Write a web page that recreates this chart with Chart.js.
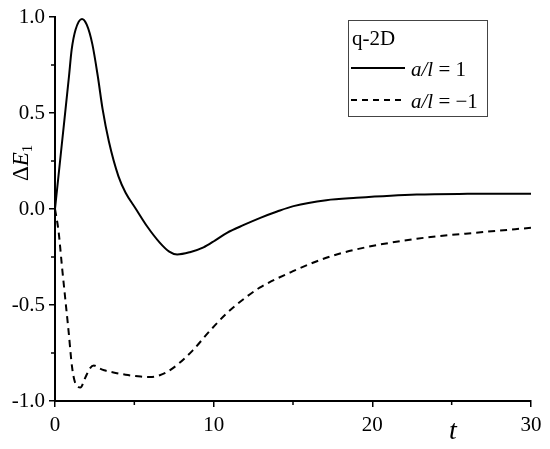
<!DOCTYPE html>
<html>
<head>
<meta charset="utf-8">
<script src="https://cdn.jsdelivr.net/npm/chart.js@4/dist/chart.umd.min.js"></script>
<style>
  html, body { margin: 0; padding: 0; background: #fff; }
  #wrap { width: 550px; height: 449px; }
</style>
</head>
<body>
<div id="wrap"><canvas id="chart"></canvas></div>
<script>
// a/l = 1 (solid)
const tPos = [0, 0.44, 0.88, 1.05, 1.3, 1.7, 2.0, 2.35, 2.7, 3.0, 3.4, 4.0, 4.45, 5.1, 5.8, 6.6, 7.2, 7.7, 8.5, 9.36, 10.1, 10.84, 11.9, 12.94, 14.0, 15.03, 17.1, 19.0, 22.8, 26.0, 30.0];
const ePos = [0, 0.345, 0.69, 0.83, 0.935, 0.99, 0.96, 0.86, 0.69, 0.52, 0.35, 0.17, 0.085, 0.0, -0.09, -0.175, -0.222, -0.237, -0.225, -0.2, -0.163, -0.124, -0.083, -0.046, -0.013, 0.015, 0.046, 0.058, 0.075, 0.079, 0.08];

// a/l = -1 (dashed)
const tNeg = [0, 0.23, 0.44, 0.65, 0.86, 1.07, 1.25, 1.45, 1.6, 1.9, 2.2, 2.45, 2.8, 3.1, 3.9, 4.6, 5.4, 6.0, 6.6, 7.1, 7.8, 8.7, 9.7, 10.8, 12.0, 12.9, 15.0, 17.1, 19.0, 22.8, 27.0, 30.0];
const eNeg = [0, -0.12, -0.3, -0.47, -0.64, -0.82, -0.9, -0.925, -0.93, -0.88, -0.83, -0.815, -0.83, -0.84, -0.855, -0.865, -0.873, -0.875, -0.866, -0.847, -0.805, -0.735, -0.64, -0.545, -0.462, -0.41, -0.324, -0.254, -0.21, -0.155, -0.12, -0.098];

const xMinorTicks = [5, 15, 25];
const yMinorTicks = [-0.75, -0.25, 0.25, 0.75];

const legendTitle = "q-2D";
const legendLabels = ["= 1", "= \u22121"];

const serif = "'Liberation Serif', 'Times New Roman', serif";

const toPoints = (ts, vs) => ts.map((t, i) => ({ x: t, y: vs[i] }));

// minor ticks, axis titles and the boxed legend
const extras = {
  id: "extras",
  afterDraw(chart) {
    const ctx = chart.ctx;
    const xs = chart.scales.x, ys = chart.scales.y;
    const area = chart.chartArea;
    ctx.save();
    ctx.strokeStyle = "#000";
    ctx.lineWidth = 1.5;
    xMinorTicks.forEach(v => {
      const px = xs.getPixelForValue(v);
      ctx.beginPath();
      ctx.moveTo(px, area.bottom);
      ctx.lineTo(px, area.bottom + 4);
      ctx.stroke();
    });
    yMinorTicks.forEach(v => {
      const py = ys.getPixelForValue(v);
      ctx.beginPath();
      ctx.moveTo(area.left, py);
      ctx.lineTo(area.left - 4, py);
      ctx.stroke();
    });

    // x title
    ctx.fillStyle = "#000";
    ctx.font = "italic 28px " + serif;
    ctx.textAlign = "center";
    ctx.textBaseline = "alphabetic";
    ctx.fillText("t", 453, 439);

    // y title
    ctx.save();
    ctx.translate(28, 181);
    ctx.rotate(-Math.PI / 2);
    ctx.textAlign = "left";
    ctx.font = "23px " + serif;
    ctx.fillText("\u0394", 0, 0);
    let w = ctx.measureText("\u0394").width;
    ctx.font = "italic 23px " + serif;
    ctx.fillText("E", w, 0);
    w += ctx.measureText("E").width;
    ctx.font = "15px " + serif;
    ctx.fillText("1", w, 4);
    ctx.restore();

    // legend
    ctx.strokeStyle = "#444";
    ctx.lineWidth = 1;
    ctx.strokeRect(348.5, 20.5, 139, 96);
    ctx.textAlign = "left";
    ctx.font = "21px " + serif;
    ctx.fillText(legendTitle, 352, 45);
    const rows = [68, 100];
    const dashes = [[], [6, 5]];
    rows.forEach((y, i) => {
      ctx.strokeStyle = "#000";
      ctx.lineWidth = 2;
      ctx.setLineDash(dashes[i]);
      ctx.beginPath();
      ctx.moveTo(351, y);
      ctx.lineTo(405, y);
      ctx.stroke();
      ctx.setLineDash([]);
      ctx.font = "italic 21px " + serif;
      ctx.fillText("a/l", 411, y + 8);
      const aw = ctx.measureText("a/l").width;
      ctx.font = "21px " + serif;
      ctx.fillText(" " + legendLabels[i], 411 + aw, y + 8);
    });
    ctx.restore();
  }
};

new Chart(document.getElementById("chart"), {
  type: "line",
  data: {
    datasets: [
      {
        label: "a/l = 1",
        data: toPoints(tPos, ePos),
        borderColor: "#000",
        borderWidth: 2,
        pointRadius: 0,
        cubicInterpolationMode: "monotone",
        fill: false
      },
      {
        label: "a/l = -1",
        data: toPoints(tNeg, eNeg),
        borderColor: "#000",
        borderWidth: 2,
        borderDash: [7, 5],
        pointRadius: 0,
        cubicInterpolationMode: "monotone",
        fill: false
      }
    ]
  },
  options: {
    responsive: true,
    maintainAspectRatio: false,
    animation: false,
    layout: { padding: { top: 17, right: 19, left: 0, bottom: 0 } },
    plugins: {
      legend: { display: false },
      tooltip: { enabled: false }
    },
    scales: {
      x: {
        type: "linear",
        min: 0,
        max: 30,
        afterFit: s => { s.height = 48; },
        grid: { drawOnChartArea: false, drawTicks: true, tickLength: 6, color: "#000", lineWidth: 1.5 },
        border: { color: "#000", width: 2 },
        ticks: {
          stepSize: 10,
          autoSkip: false,
          maxRotation: 0,
          padding: 6,
          color: "#000",
          font: { family: serif, size: 21 }
        }
      },
      y: {
        min: -1,
        max: 1,
        afterFit: s => { s.width = 55; },
        grid: { drawOnChartArea: false, drawTicks: true, tickLength: 6, color: "#000", lineWidth: 1.5 },
        border: { color: "#000", width: 2 },
        ticks: {
          stepSize: 0.5,
          autoSkip: false,
          padding: 4,
          color: "#000",
          font: { family: serif, size: 21 },
          callback: v => v.toFixed(1)
        }
      }
    }
  },
  plugins: [extras]
});
</script>
</body>
</html>
